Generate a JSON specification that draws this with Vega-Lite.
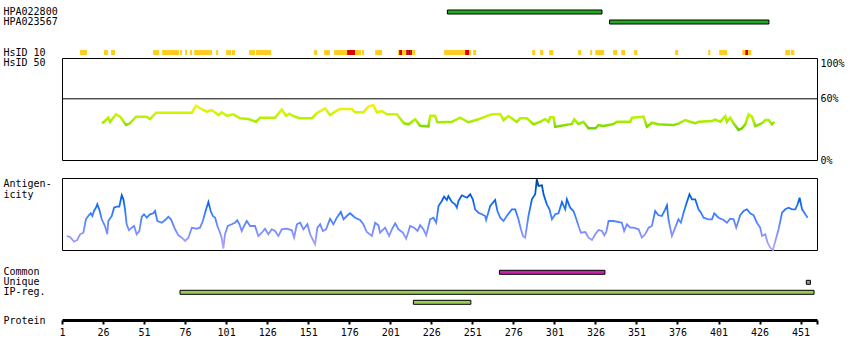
{
  "$schema": "https://vega.github.io/schema/vega-lite/v6.json",
  "padding": {"left": 2, "top": 6, "right": 5, "bottom": 5},
  "bounds": "flush",
  "spacing": 0,
  "config": {
    "font": "DejaVu Sans Mono",
    "axis": {"labelFont": "DejaVu Sans Mono", "labelFontSize": 10, "labelColor": "#000", "titleFont": "DejaVu Sans Mono", "titleFontSize": 10, "titleFontWeight": "normal", "titleColor": "#000", "grid": false},
    "view": {"stroke": null}
  },
  "datasets": {
    "ab": [
      {"name": "HPA022800", "s": 235.8, "e": 330},
      {"name": "HPA023567", "s": 334.6, "e": 431.7}
    ],
    "hs10": [
      {"s": 12, "e": 16.2, "lv": "y"}, {"s": 26.6, "e": 29, "lv": "y"}, {"s": 30.9, "e": 33.3, "lv": "y"},
      {"s": 56.5, "e": 60.1, "lv": "y"}, {"s": 62, "e": 72.3, "lv": "y"}, {"s": 72.9, "e": 74.1, "lv": "y"},
      {"s": 76, "e": 77.2, "lv": "y"}, {"s": 79, "e": 80.2, "lv": "y"}, {"s": 81.5, "e": 92.4, "lv": "y"},
      {"s": 94.9, "e": 96.1, "lv": "y"}, {"s": 101, "e": 104, "lv": "y"}, {"s": 104.6, "e": 106.4, "lv": "y"},
      {"s": 115, "e": 118.6, "lv": "y"}, {"s": 119.2, "e": 128.4, "lv": "y"}, {"s": 154.6, "e": 156.4, "lv": "y"},
      {"s": 160.7, "e": 164.3, "lv": "y"}, {"s": 166.8, "e": 174.7, "lv": "y"}, {"s": 174.7, "e": 179.6, "lv": "r"},
      {"s": 179.6, "e": 183.2, "lv": "y"}, {"s": 183.8, "e": 185.1, "lv": "y"}, {"s": 191.8, "e": 196, "lv": "y"},
      {"s": 205.8, "e": 206.4, "lv": "y"}, {"s": 206.4, "e": 208.2, "lv": "r"}, {"s": 208.2, "e": 210.7, "lv": "y"},
      {"s": 210.7, "e": 211.9, "lv": "r"}, {"s": 211.9, "e": 213.1, "lv": "d"}, {"s": 213.1, "e": 214.3, "lv": "r"},
      {"s": 214.3, "e": 216.2, "lv": "y"}, {"s": 233.8, "e": 246.6, "lv": "y"}, {"s": 246.6, "e": 249.1, "lv": "r"},
      {"s": 249.1, "e": 250.3, "lv": "y"}, {"s": 251.5, "e": 253.3, "lv": "y"}, {"s": 287.5, "e": 289.3, "lv": "y"},
      {"s": 292.3, "e": 294.2, "lv": "y"}, {"s": 297.8, "e": 300.3, "lv": "y"}, {"s": 315.5, "e": 317.3, "lv": "y"},
      {"s": 322.8, "e": 324, "lv": "y"}, {"s": 325.9, "e": 331.3, "lv": "y"}, {"s": 336.8, "e": 339.3, "lv": "y"},
      {"s": 341.7, "e": 344.1, "lv": "y"}, {"s": 349.6, "e": 351.5, "lv": "y"}, {"s": 374.6, "e": 376.4, "lv": "y"},
      {"s": 394.7, "e": 396, "lv": "y"}, {"s": 401.4, "e": 406.3, "lv": "y"}, {"s": 415.5, "e": 417.3, "lv": "y"},
      {"s": 417.3, "e": 419.1, "lv": "r"}, {"s": 419.1, "e": 420.9, "lv": "y"}, {"s": 441.7, "e": 444.5, "lv": "y"},
      {"s": 445, "e": 447.2, "lv": "y"}
    ],
    "thr": [{"level": 60}],
    "hs50": [
      {"r": 25.4, "v": 36.0}, {"r": 26.6, "v": 37.5}, {"r": 29.2, "v": 41.5}, {"r": 30.3, "v": 37.5},
      {"r": 33.9, "v": 44.8}, {"r": 36.4, "v": 42.5}, {"r": 40.0, "v": 34.3}, {"r": 42.4, "v": 36.0},
      {"r": 46.1, "v": 42.5}, {"r": 52.6, "v": 42.5}, {"r": 54.6, "v": 40.2}, {"r": 58.3, "v": 46.4},
      {"r": 80.1, "v": 46.4}, {"r": 82.7, "v": 53.2}, {"r": 85.1, "v": 50.7}, {"r": 89.2, "v": 47.4},
      {"r": 92.2, "v": 49.0}, {"r": 96.3, "v": 44.1}, {"r": 98.3, "v": 46.8}, {"r": 101.4, "v": 43.4},
      {"r": 105.4, "v": 44.8}, {"r": 109.5, "v": 40.9}, {"r": 114.6, "v": 40.2}, {"r": 119.2, "v": 37.5},
      {"r": 121.7, "v": 41.5}, {"r": 130.8, "v": 41.5}, {"r": 134.9, "v": 49.7}, {"r": 137.5, "v": 43.4},
      {"r": 139.5, "v": 45.4}, {"r": 142.0, "v": 43.1}, {"r": 145.6, "v": 40.9}, {"r": 153.2, "v": 40.9},
      {"r": 156.2, "v": 45.8}, {"r": 161.3, "v": 50.7}, {"r": 164.3, "v": 44.1}, {"r": 167.4, "v": 47.4},
      {"r": 170.4, "v": 50.0}, {"r": 177.6, "v": 50.0}, {"r": 179.6, "v": 46.8}, {"r": 184.6, "v": 46.8},
      {"r": 187.7, "v": 52.3}, {"r": 190.7, "v": 53.9}, {"r": 192.8, "v": 46.8}, {"r": 195.9, "v": 48.0},
      {"r": 198.9, "v": 44.8}, {"r": 205.0, "v": 44.8}, {"r": 209.4, "v": 36.0}, {"r": 212.1, "v": 35.0},
      {"r": 216.2, "v": 39.9}, {"r": 219.2, "v": 33.6}, {"r": 224.3, "v": 33.0}, {"r": 225.3, "v": 43.4},
      {"r": 228.3, "v": 43.4}, {"r": 229.7, "v": 37.0}, {"r": 238.5, "v": 37.5}, {"r": 243.6, "v": 41.5},
      {"r": 248.6, "v": 37.0}, {"r": 254.7, "v": 39.9}, {"r": 258.8, "v": 42.5}, {"r": 262.9, "v": 44.8},
      {"r": 268.0, "v": 45.1}, {"r": 270.0, "v": 39.2}, {"r": 273.0, "v": 43.1}, {"r": 278.1, "v": 37.5},
      {"r": 280.1, "v": 40.9}, {"r": 284.2, "v": 40.9}, {"r": 288.3, "v": 35.0}, {"r": 292.3, "v": 37.5},
      {"r": 295.4, "v": 40.2}, {"r": 297.4, "v": 37.5}, {"r": 298.4, "v": 41.9}, {"r": 300.5, "v": 41.9},
      {"r": 301.5, "v": 32.6}, {"r": 311.7, "v": 35.3}, {"r": 313.1, "v": 39.9}, {"r": 315.7, "v": 35.3},
      {"r": 318.7, "v": 37.5}, {"r": 321.8, "v": 31.1}, {"r": 325.9, "v": 31.1}, {"r": 327.9, "v": 34.3},
      {"r": 330.9, "v": 33.3}, {"r": 337.0, "v": 35.3}, {"r": 339.1, "v": 37.5}, {"r": 347.2, "v": 37.5},
      {"r": 348.2, "v": 41.5}, {"r": 355.3, "v": 42.5}, {"r": 357.4, "v": 32.6}, {"r": 360.4, "v": 36.6},
      {"r": 364.4, "v": 35.0}, {"r": 373.6, "v": 34.3}, {"r": 376.6, "v": 35.6}, {"r": 380.7, "v": 39.2},
      {"r": 383.7, "v": 37.5}, {"r": 386.8, "v": 36.0}, {"r": 388.8, "v": 37.5}, {"r": 397.0, "v": 38.2},
      {"r": 399.0, "v": 39.9}, {"r": 402.0, "v": 37.5}, {"r": 405.1, "v": 43.1}, {"r": 406.1, "v": 37.5},
      {"r": 408.1, "v": 41.5}, {"r": 410.2, "v": 36.0}, {"r": 413.2, "v": 29.4}, {"r": 415.3, "v": 31.1},
      {"r": 417.3, "v": 35.0}, {"r": 419.3, "v": 44.8}, {"r": 421.4, "v": 42.5}, {"r": 423.4, "v": 33.3},
      {"r": 427.5, "v": 36.0}, {"r": 429.5, "v": 39.2}, {"r": 431.5, "v": 39.2}, {"r": 433.6, "v": 35.0},
      {"r": 435.0, "v": 37.5}
    ],
    "ag": [
      {"r": 3.9, "a": 14}, {"r": 5.9, "a": 13}, {"r": 8.3, "a": 8.3}, {"r": 10.3, "a": 10}, {"r": 12.0, "a": 15.7},
      {"r": 14.0, "a": 17.3}, {"r": 15.6, "a": 30.7}, {"r": 17.0, "a": 34}, {"r": 18.5, "a": 36.7}, {"r": 19.5, "a": 34},
      {"r": 20.5, "a": 39}, {"r": 21.7, "a": 42.3}, {"r": 22.5, "a": 45.7}, {"r": 23.7, "a": 40.7}, {"r": 25.2, "a": 30.7},
      {"r": 27.2, "a": 24}, {"r": 28.6, "a": 15.7}, {"r": 29.2, "a": 29}, {"r": 31.3, "a": 34}, {"r": 32.7, "a": 42.3},
      {"r": 34.3, "a": 43.3}, {"r": 35.9, "a": 43.3}, {"r": 37.4, "a": 54.7}, {"r": 38.4, "a": 50.7}, {"r": 39.4, "a": 40.7},
      {"r": 40.4, "a": 25.7}, {"r": 41.8, "a": 19.7}, {"r": 43.5, "a": 22.3}, {"r": 44.9, "a": 24}, {"r": 46.5, "a": 15.7},
      {"r": 48.1, "a": 19}, {"r": 49.6, "a": 33.3}, {"r": 51.0, "a": 35.7}, {"r": 52.6, "a": 32.3}, {"r": 54.6, "a": 35.7},
      {"r": 56.6, "a": 36.7}, {"r": 57.7, "a": 39}, {"r": 59.1, "a": 29}, {"r": 61.8, "a": 27.3}, {"r": 64.4, "a": 30.7},
      {"r": 65.8, "a": 33.3}, {"r": 67.4, "a": 30.7}, {"r": 69.9, "a": 20.7}, {"r": 71.9, "a": 14.7}, {"r": 74.0, "a": 12.3},
      {"r": 76.0, "a": 9}, {"r": 78.0, "a": 12.3}, {"r": 80.1, "a": 22.3}, {"r": 83.1, "a": 21.3}, {"r": 85.1, "a": 22.3},
      {"r": 86.8, "a": 29}, {"r": 88.8, "a": 40.7}, {"r": 90.2, "a": 48}, {"r": 91.6, "a": 39}, {"r": 92.9, "a": 34},
      {"r": 94.3, "a": 32.3}, {"r": 95.7, "a": 24}, {"r": 96.9, "a": 19}, {"r": 98.3, "a": 12.3}, {"r": 99.3, "a": 1.3},
      {"r": 100.3, "a": 15.7}, {"r": 102.0, "a": 24}, {"r": 104.4, "a": 25.7}, {"r": 106.4, "a": 27.3}, {"r": 107.8, "a": 29.7},
      {"r": 109.1, "a": 25.7}, {"r": 110.5, "a": 19}, {"r": 111.9, "a": 24}, {"r": 113.6, "a": 29}, {"r": 115.6, "a": 24},
      {"r": 118.6, "a": 24}, {"r": 120.6, "a": 14}, {"r": 122.7, "a": 17.3}, {"r": 124.7, "a": 21.3}, {"r": 126.7, "a": 15.7},
      {"r": 128.8, "a": 20.7}, {"r": 130.8, "a": 19}, {"r": 132.8, "a": 14}, {"r": 134.9, "a": 20.7}, {"r": 138.0, "a": 21.3},
      {"r": 141.0, "a": 19.7}, {"r": 142.4, "a": 12.3}, {"r": 144.1, "a": 25.7}, {"r": 146.1, "a": 27.3}, {"r": 148.1, "a": 20.7},
      {"r": 150.5, "a": 25.7}, {"r": 152.2, "a": 15.7}, {"r": 154.2, "a": 9}, {"r": 155.2, "a": 5.7}, {"r": 156.6, "a": 22.3},
      {"r": 158.3, "a": 25.7}, {"r": 159.9, "a": 19}, {"r": 161.9, "a": 20.7}, {"r": 164.3, "a": 31.3}, {"r": 166.4, "a": 25.7},
      {"r": 168.4, "a": 32.3}, {"r": 170.9, "a": 38}, {"r": 172.5, "a": 30.7}, {"r": 174.5, "a": 34}, {"r": 176.5, "a": 36.7},
      {"r": 179.6, "a": 32.3}, {"r": 182.6, "a": 30}, {"r": 184.6, "a": 25.7}, {"r": 186.7, "a": 18}, {"r": 189.8, "a": 14},
      {"r": 191.8, "a": 27.3}, {"r": 193.8, "a": 24.7}, {"r": 194.8, "a": 17.3}, {"r": 197.9, "a": 22.3}, {"r": 200.3, "a": 14},
      {"r": 202.0, "a": 20.7}, {"r": 204.0, "a": 26.7}, {"r": 206.0, "a": 20.7}, {"r": 208.7, "a": 17.3}, {"r": 210.7, "a": 11.3},
      {"r": 213.1, "a": 24}, {"r": 215.5, "a": 22.3}, {"r": 217.6, "a": 19}, {"r": 219.2, "a": 24.7}, {"r": 221.2, "a": 20.7},
      {"r": 222.9, "a": 14.7}, {"r": 225.3, "a": 30.7}, {"r": 227.3, "a": 32.3}, {"r": 229.0, "a": 27.3}, {"r": 230.4, "a": 44},
      {"r": 232.4, "a": 49}, {"r": 233.8, "a": 53.3}, {"r": 235.5, "a": 50}, {"r": 236.4, "a": 54}, {"r": 238.5, "a": 48},
      {"r": 240.5, "a": 45.7}, {"r": 241.6, "a": 42.3}, {"r": 242.5, "a": 49}, {"r": 244.6, "a": 54.7}, {"r": 247.7, "a": 52.3},
      {"r": 249.7, "a": 55.7}, {"r": 251.3, "a": 50.7}, {"r": 252.7, "a": 40.7}, {"r": 254.7, "a": 37.3}, {"r": 256.8, "a": 35.7},
      {"r": 258.8, "a": 34}, {"r": 259.4, "a": 30}, {"r": 261.9, "a": 44}, {"r": 264.9, "a": 50}, {"r": 266.3, "a": 39},
      {"r": 268.0, "a": 32.3}, {"r": 270.0, "a": 29}, {"r": 272.0, "a": 34}, {"r": 275.1, "a": 40.7}, {"r": 277.1, "a": 40.7},
      {"r": 279.1, "a": 30.7}, {"r": 280.6, "a": 20.7}, {"r": 281.8, "a": 14}, {"r": 283.2, "a": 12.3}, {"r": 285.2, "a": 34},
      {"r": 287.3, "a": 50.7}, {"r": 289.3, "a": 55.7}, {"r": 290.3, "a": 70.7}, {"r": 291.3, "a": 64}, {"r": 293.4, "a": 64.7},
      {"r": 294.4, "a": 55.7}, {"r": 296.4, "a": 45.7}, {"r": 298.0, "a": 40.7}, {"r": 299.5, "a": 30.7}, {"r": 301.5, "a": 35.7},
      {"r": 303.5, "a": 36.7}, {"r": 305.6, "a": 48}, {"r": 307.6, "a": 40.7}, {"r": 308.6, "a": 50.7}, {"r": 310.6, "a": 42.3},
      {"r": 312.6, "a": 39}, {"r": 314.3, "a": 31.3}, {"r": 315.7, "a": 24}, {"r": 317.2, "a": 17.3}, {"r": 319.8, "a": 18},
      {"r": 321.8, "a": 12.3}, {"r": 323.9, "a": 10}, {"r": 325.9, "a": 15.7}, {"r": 327.9, "a": 20}, {"r": 330.0, "a": 19},
      {"r": 331.4, "a": 14.7}, {"r": 332.6, "a": 18}, {"r": 334.0, "a": 29}, {"r": 337.0, "a": 29}, {"r": 340.1, "a": 28},
      {"r": 342.1, "a": 27.3}, {"r": 343.5, "a": 19}, {"r": 345.2, "a": 25.7}, {"r": 347.2, "a": 22.3}, {"r": 349.2, "a": 22.3},
      {"r": 352.3, "a": 20.7}, {"r": 354.3, "a": 12.3}, {"r": 356.3, "a": 15.7}, {"r": 358.4, "a": 22.3}, {"r": 360.4, "a": 24},
      {"r": 362.4, "a": 39}, {"r": 364.4, "a": 34.7}, {"r": 366.5, "a": 34}, {"r": 368.5, "a": 40.7}, {"r": 369.6, "a": 44.7},
      {"r": 370.5, "a": 30.7}, {"r": 372.6, "a": 14}, {"r": 374.6, "a": 22.3}, {"r": 376.6, "a": 30.7}, {"r": 378.1, "a": 27.3},
      {"r": 379.7, "a": 37.3}, {"r": 381.3, "a": 45.7}, {"r": 383.3, "a": 55.7}, {"r": 384.8, "a": 50.7}, {"r": 386.8, "a": 50.7},
      {"r": 388.8, "a": 40.7}, {"r": 390.3, "a": 37.3}, {"r": 391.9, "a": 32.3}, {"r": 394.9, "a": 30.7}, {"r": 397.0, "a": 30.7},
      {"r": 398.4, "a": 36.7}, {"r": 401.0, "a": 32.3}, {"r": 404.1, "a": 30}, {"r": 406.1, "a": 27.3}, {"r": 408.1, "a": 31.3},
      {"r": 410.2, "a": 30.7}, {"r": 411.8, "a": 22.3}, {"r": 414.2, "a": 34.7}, {"r": 416.3, "a": 39}, {"r": 418.3, "a": 40.7},
      {"r": 420.3, "a": 36.7}, {"r": 422.4, "a": 34.7}, {"r": 424.4, "a": 27.3}, {"r": 426.4, "a": 22.3}, {"r": 427.5, "a": 14},
      {"r": 429.5, "a": 15.7}, {"r": 430.9, "a": 7.3}, {"r": 432.5, "a": 2.3}, {"r": 434.2, "a": 0}, {"r": 435.6, "a": 9},
      {"r": 437.6, "a": 20.7}, {"r": 439.7, "a": 37.3}, {"r": 441.7, "a": 40.7}, {"r": 443.7, "a": 42.3}, {"r": 445.8, "a": 40.7},
      {"r": 447.8, "a": 40.7}, {"r": 449.2, "a": 45.7}, {"r": 450.4, "a": 52.3}, {"r": 451.9, "a": 40.7}, {"r": 453.9, "a": 35.7},
      {"r": 455.3, "a": 32.3}
    ],
    "feat": [
      {"row": "Common", "s": 267.5, "e": 331.8, "k": "Common"},
      {"row": "Unique", "s": 454.5, "e": 457, "k": "Unique"},
      {"row": "IP-reg.", "s": 72.9, "e": 459.2, "k": "IP-reg."},
      {"row": "IP2", "s": 215.1, "e": 250.1, "k": "IP-reg."}
    ]
  },
  "vconcat": [
    {
      "width": 755, "height": 40,
      "data": {"name": "ab"},
      "mark": {"type": "bar", "height": 4, "fill": "#22AA22", "stroke": "#000", "strokeWidth": 1},
      "encoding": {
        "x": {"field": "s", "type": "quantitative", "scale": {"domain": [1, 461], "nice": false, "zero": false}, "axis": null},
        "x2": {"field": "e"},
        "y": {"field": "name", "type": "nominal", "scale": {"domain": ["HPA022800", "HPA023567"], "paddingInner": 0, "paddingOuter": 1, "align": 0},
              "axis": {"title": null, "domain": false, "ticks": false, "tickSize": 0, "labelAlign": "left", "labelPadding": 59, "labelBaseline": "middle"}}
      }
    },
    {
      "width": 755, "height": 11,
      "data": {"name": "hs10"},
      "transform": [{"calculate": "'HsID 10'", "as": "track"}],
      "mark": {"type": "bar", "height": 5},
      "encoding": {
        "x": {"field": "s", "type": "quantitative", "scale": {"domain": [1, 461], "nice": false, "zero": false}, "axis": null},
        "x2": {"field": "e"},
        "y": {"field": "track", "type": "nominal", "scale": {"paddingInner": 0, "paddingOuter": 0},
              "axis": {"title": null, "domain": false, "ticks": false, "tickSize": 0, "labelAlign": "left", "labelPadding": 59, "labelBaseline": "middle"}},
        "color": {"field": "lv", "type": "nominal", "scale": {"domain": ["y", "r", "d"], "range": ["#FFCC22", "#DD0000", "#AA0000"]}, "legend": null}
      }
    },
    {
      "width": 755, "height": 102,
      "view": {"stroke": "#000", "strokeWidth": 1},
      "layer": [
        {
          "data": {"name": "hs50"},
          "mark": {"type": "line", "strokeWidth": 2.5,
                   "stroke": {"gradient": "linear", "x1": 0, "y1": 0, "x2": 0, "y2": 1,
                              "stops": [{"offset": 0, "color": "#FFEE11"}, {"offset": 0.35, "color": "#CCF500"}, {"offset": 0.65, "color": "#A8EE00"}, {"offset": 1, "color": "#66CC00"}]}},
          "encoding": {
            "x": {"field": "r", "type": "quantitative", "scale": {"domain": [1, 461], "nice": false, "zero": false}, "axis": null},
            "y": {"field": "v", "type": "quantitative", "scale": {"domain": [0, 100], "nice": false},
                  "axis": {"orient": "right", "values": [0, 60, 100], "labelExpr": "datum.value + '%'", "ticks": false, "domain": false, "labelPadding": 3,
                           "labelBaseline": {"condition": {"test": "datum.value == 100", "value": "top"}, "value": "middle"},
                           "title": "HsID 50", "titleAngle": 0, "titleAlign": "left", "titleBaseline": "middle", "titleX": -814, "titleY": 4}}
          }
        },
        {
          "data": {"name": "thr"},
          "mark": {"type": "rule", "color": "#000", "strokeWidth": 1},
          "encoding": {"y": {"field": "level", "type": "quantitative"}}
        }
      ]
    },
    {
      "width": 755, "height": 18,
      "data": {"values": []},
      "mark": "point"
    },
    {
      "width": 755, "height": 72,
      "view": {"stroke": "#000", "strokeWidth": 1},
      "data": {"name": "ag"},
      "mark": {"type": "line", "strokeWidth": 1.8,
               "stroke": {"gradient": "linear", "x1": 0, "y1": 0, "x2": 0, "y2": 1,
                          "stops": [{"offset": 0, "color": "#004499"}, {"offset": 0.3, "color": "#0A64F0"}, {"offset": 0.5, "color": "#3A7FFF"}, {"offset": 0.72, "color": "#7A8CFF"}, {"offset": 1, "color": "#B4A8FF"}]}},
      "encoding": {
        "x": {"field": "r", "type": "quantitative", "scale": {"domain": [1, 461], "nice": false, "zero": false}, "axis": null},
        "y": {"field": "a", "type": "quantitative", "scale": {"domain": [0, 72], "nice": false},
              "axis": {"labels": false, "ticks": false, "domain": false, "title": ["Antigen-", "icity"], "titleAngle": 0, "titleAlign": "left", "titleBaseline": "top", "titleX": -59, "titleY": 0, "titleLineHeight": 11}}
      }
    },
    {
      "width": 755, "height": 60,
      "data": {"name": "feat"},
      "mark": {"type": "bar", "height": 4, "stroke": "#000", "strokeWidth": 1},
      "encoding": {
        "x": {"field": "s", "type": "quantitative", "scale": {"domain": [1, 461], "nice": false, "zero": false},
              "axis": {"orient": "bottom", "offset": 10, "values": [1, 26, 51, 76, 101, 126, 151, 176, 201, 226, 251, 276, 301, 326, 351, 376, 401, 426, 451, 461],
                       "labelExpr": "datum.value == 461 ? '' : datum.label", "labelFlush": false, "labelOverlap": false,
                       "domainWidth": 3, "domainColor": "#000", "domainCap": "butt", "tickSize": 4, "tickWidth": 2, "tickColor": "#000",
                       "labelPadding": 3.5, "labelBaseline": "top",
                       "title": "Protein", "titleAngle": 0, "titleAlign": "left", "titleBaseline": "middle", "titleX": -59, "titleY": 0}},
        "x2": {"field": "e"},
        "y": {"field": "row", "type": "nominal", "scale": {"domain": ["Common", "Unique", "IP-reg.", "IP2"], "paddingInner": 0, "paddingOuter": 1, "align": 0.865},
              "axis": {"title": null, "domain": false, "ticks": false, "tickSize": 0, "labelAlign": "left", "labelPadding": 59, "labelBaseline": "middle",
                       "labelExpr": "datum.value == 'IP2' ? '' : datum.value"}},
        "fill": {"field": "k", "type": "nominal", "scale": {"domain": ["Common", "Unique", "IP-reg."], "range": ["#CC22AA", "#999999", "#99CC55"]}, "legend": null}
      }
    }
  ]
}
